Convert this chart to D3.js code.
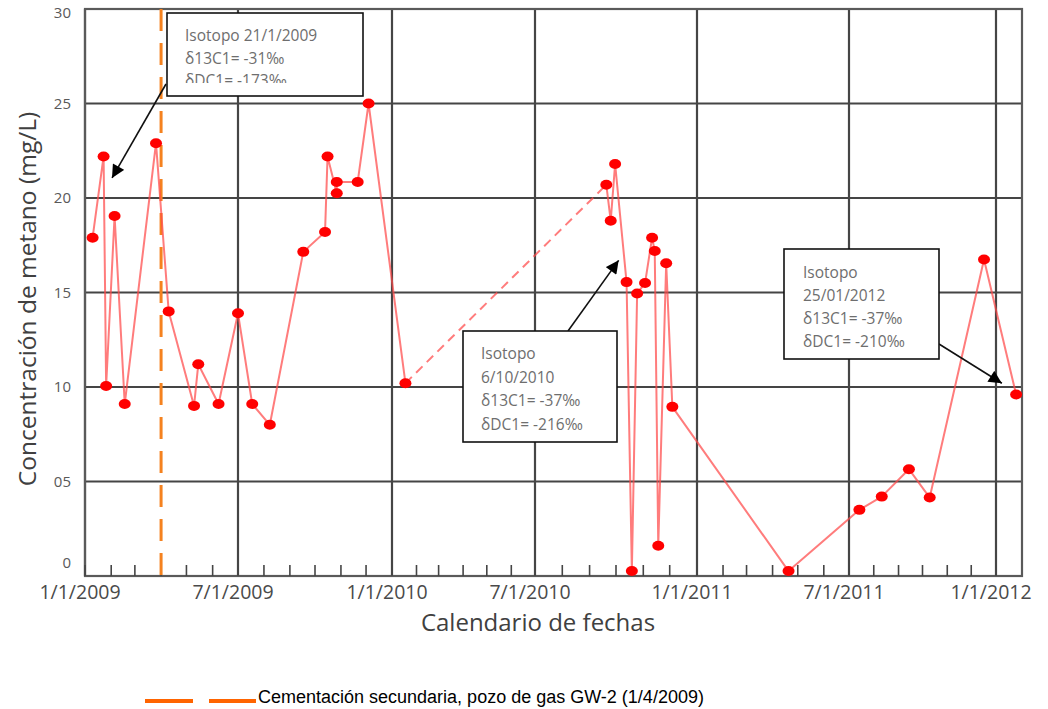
<!DOCTYPE html>
<html>
<head>
<meta charset="utf-8">
<script src="https://cdn.jsdelivr.net/npm/d3@7"></script>
<style>
  html, body { margin: 0; padding: 0; background: #fff; }
  svg { display: block; }
</style>
</head>
<body>
<svg id="chart" width="1048" height="709"></svg>
<script>
// Methane concentration in groundwater samples, 2009-2012
const sampleDates = [
  "2009-01-10", "2009-01-23", "2009-01-26", "2009-02-05", "2009-02-17",
  "2009-03-26", "2009-04-10", "2009-05-10", "2009-05-15", "2009-06-08",
  "2009-07-01", "2009-07-18", "2009-08-08", "2009-09-17", "2009-10-13",
  "2009-10-16", "2009-10-27", "2009-10-27", "2009-11-21", "2009-12-04",
  "2010-01-18", "2010-09-20", "2010-09-25", "2010-09-30", "2010-10-13",
  "2010-10-19", "2010-10-25", "2010-11-03", "2010-11-11", "2010-11-14",
  "2010-11-18", "2010-11-27", "2010-12-04", "2011-04-20", "2011-07-14",
  "2011-08-11", "2011-09-14", "2011-10-10", "2011-12-17", "2012-01-25"
];
const methaneMgL = [
  17.9, 22.2, 10.05, 19.05, 9.1,
  22.9, 14.0, 9.0, 11.2, 9.1,
  13.9, 9.1, 8.0, 17.15, 18.2,
  22.2, 20.25, 20.85, 20.85, 25.0,
  10.2, 20.7, 18.8, 21.8, 15.55,
  0.26, 14.95, 15.5, 17.9, 17.2,
  1.6, 16.55, 8.95, 0.26, 3.5,
  4.2, 5.65, 4.15, 16.75, 9.6
];
// gap in sampling, drawn dashed
const interruptedSegment = ["2010-01-18", "2010-09-20"];

const axisDates = ["2009-01-01", "2009-07-01", "2010-01-01", "2010-07-01",
                   "2011-01-01", "2011-07-01", "2012-01-01", "2012-02-01"];
const xTickLabels = ["1/1/2009", "7/1/2009", "1/1/2010", "7/1/2010",
                     "1/1/2011", "7/1/2011", "1/1/2012"];
const yTickValues = [0, 5, 10, 15, 20, 25, 30];
const yTickLabels = ["0", "05", "10", "15", "20", "25", "30"];

const cementationDate = "2009-04-01";
const legendLabel = "Cementación secundaria, pozo de gas GW-2 (1/4/2009)";

const isotopeNotes = [
  { lines: ["Isotopo 21/1/2009", "δ13C1= -31‰", "δDC1= -173‰"], tip: ["2009-02-02", 21.06] },
  { lines: ["Isotopo", "6/10/2010", "δ13C1= -37‰", "δDC1= -216‰"], tip: ["2010-10-04", 16.7] },
  { lines: ["Isotopo", "25/01/2012", "δ13C1= -37‰", "δDC1= -210‰"], tip: ["2012-01-08", 10.2] }
];

const parse = d3.utcParse("%Y-%m-%d");
const svg = d3.select("#chart");

const plot = { left: 85, right: 1022, top: 9, bottom: 576 };

// date axis with per-period breakpoints
const x = d3.scaleUtc()
  .domain(axisDates.map(parse))
  .range([85, 238, 392, 535, 697, 849, 996, 1022]);
const y = d3.scaleLinear().domain([0, 30]).range([plot.bottom, plot.top]);

const gridColor = "#454545";
const textGrey = "#595959";

// horizontal grid
svg.append("g").selectAll("line")
  .data(yTickValues)
  .join("line")
  .attr("x1", plot.left).attr("x2", plot.right)
  .attr("y1", d => y(d)).attr("y2", d => y(d))
  .attr("stroke", gridColor).attr("stroke-width", 2.2);

// vertical grid at labelled dates
const majorDates = axisDates.slice(0, xTickLabels.length).map(parse);
svg.append("g").selectAll("line")
  .data(majorDates)
  .join("line")
  .attr("x1", d => x(d)).attr("x2", d => x(d))
  .attr("y1", plot.top).attr("y2", plot.bottom)
  .attr("stroke", gridColor).attr("stroke-width", 2.2);

// plot frame
svg.append("rect")
  .attr("x", plot.left).attr("y", plot.top)
  .attr("width", plot.right - plot.left).attr("height", plot.bottom - plot.top)
  .attr("fill", "none").attr("stroke", "#5a5a5a").attr("stroke-width", 2.2);

// monthly minor ticks
const months = d3.utcMonth.range(parse(axisDates[0]), parse(axisDates[axisDates.length - 1]));
svg.append("g").selectAll("line")
  .data(months)
  .join("line")
  .attr("x1", d => x(d)).attr("x2", d => x(d))
  .attr("y1", plot.bottom).attr("y2", plot.bottom - 11)
  .attr("stroke", gridColor).attr("stroke-width", 1.6);

// y tick labels (bottom and top labels nudged inward)
const labelNudge = v => (v === 0 ? -13 : v === 30 ? 4 : 0);
svg.append("g").selectAll("text")
  .data(yTickValues)
  .join("text")
  .attr("x", 71)
  .attr("y", d => y(d) + labelNudge(d))
  .attr("dy", "0.35em")
  .attr("text-anchor", "end")
  .attr("font-family", "Open Sans")
  .attr("font-size", 15)
  .attr("fill", textGrey)
  .text((d, i) => yTickLabels[i]);

// x tick labels
svg.append("g").selectAll("text")
  .data(majorDates)
  .join("text")
  .attr("x", d => x(d) - 5)
  .attr("y", 599)
  .attr("text-anchor", "middle")
  .attr("font-family", "Open Sans")
  .attr("font-size", 19.5)
  .attr("fill", "#4a4a4a")
  .text((d, i) => xTickLabels[i]);

// axis titles
svg.append("text")
  .attr("transform", "translate(36,299) rotate(-90)")
  .attr("text-anchor", "middle")
  .attr("font-family", "Open Sans")
  .attr("font-size", 24.5)
  .attr("fill", "#404040")
  .text("Concentración de metano (mg/L)");
svg.append("text")
  .attr("x", 538).attr("y", 631)
  .attr("text-anchor", "middle")
  .attr("font-family", "Open Sans")
  .attr("font-size", 24)
  .attr("fill", "#404040")
  .text("Calendario de fechas");

// cementation date marker
const cx = x(parse(cementationDate));
svg.append("line")
  .attr("x1", cx).attr("x2", cx)
  .attr("y1", plot.top).attr("y2", plot.bottom)
  .attr("stroke", "#f5821f").attr("stroke-width", 3)
  .attr("stroke-dasharray", "22 12");

// measurements
const samples = sampleDates.map((d, i) => ({ date: parse(d), value: methaneMgL[i], key: d }));
const gapStart = samples.findIndex(s => s.key === interruptedSegment[0]);
const gapEnd = samples.findIndex(s => s.key === interruptedSegment[1]);
const line = d3.line().x(d => x(d.date)).y(d => y(d.value));
const lineStyle = sel => sel.attr("fill", "none")
  .attr("stroke", "#ff4a4a").attr("stroke-opacity", 0.72)
  .attr("stroke-width", 2).attr("stroke-linejoin", "round");

svg.append("path").datum(samples.slice(0, gapStart + 1)).attr("d", line).call(lineStyle);
svg.append("path").datum(samples.slice(gapEnd)).attr("d", line).call(lineStyle);
svg.append("path").datum([samples[gapStart], samples[gapEnd]]).attr("d", line).call(lineStyle)
  .attr("stroke-dasharray", "9 6");

svg.append("g").selectAll("ellipse")
  .data(samples)
  .join("ellipse")
  .attr("cx", d => x(d.date)).attr("cy", d => y(d.value))
  .attr("rx", 6).attr("ry", 5)
  .attr("fill", "#ff0000");

// isotope notes
const defs = svg.append("defs");
defs.append("marker")
  .attr("id", "head").attr("viewBox", "0 0 10 10")
  .attr("refX", 10).attr("refY", 5)
  .attr("markerWidth", 14).attr("markerHeight", 13)
  .attr("markerUnits", "userSpaceOnUse")
  .attr("orient", "auto")
  .append("path").attr("d", "M0,0 L10,5 L0,10 Z").attr("fill", "#000");

const boxes = [
  { x: 167, y: 13, w: 196, h: 83, tx: 185, ty: 41, lh: 22.5, from: [166, 84], clip: 83 },
  { x: 463, y: 331, w: 154, h: 111, tx: 481, ty: 359, lh: 23.5, from: [568, 331] },
  { x: 784, y: 249, w: 155, h: 110, tx: 803, ty: 278, lh: 23, from: [939, 344] }
];
boxes.forEach((b, i) => {
  const note = isotopeNotes[i];
  const tx = x(parse(note.tip[0])), ty = y(note.tip[1]);
  svg.append("line")
    .attr("x1", b.from[0]).attr("y1", b.from[1])
    .attr("x2", tx).attr("y2", ty)
    .attr("stroke", "#111").attr("stroke-width", 1.6)
    .attr("marker-end", "url(#head)");
  svg.append("rect")
    .attr("x", b.x).attr("y", b.y).attr("width", b.w).attr("height", b.h)
    .attr("fill", "#fff").attr("stroke", "#111").attr("stroke-width", 1.6);
  const g = svg.append("g");
  if (b.clip) {
    defs.append("clipPath").attr("id", "noteclip" + i)
      .append("rect").attr("x", b.x).attr("y", b.y).attr("width", b.w).attr("height", b.clip - b.y);
    g.attr("clip-path", `url(#noteclip${i})`);
  }
  g.selectAll("text")
    .data(note.lines)
    .join("text")
    .attr("x", b.tx)
    .attr("y", (d, k) => b.ty + k * b.lh)
    .attr("font-family", "Open Sans")
    .attr("font-size", 15.5)
    .attr("fill", "#6e6e6e")
    .text(d => d);
});

// legend
const legend = svg.append("g");
legend.selectAll("line")
  .data([[145, 193], [209, 256]])
  .join("line")
  .attr("x1", d => d[0]).attr("x2", d => d[1])
  .attr("y1", 701).attr("y2", 701)
  .attr("stroke", "#ff6400").attr("stroke-width", 4);
legend.append("text")
  .attr("x", 258).attr("y", 703)
  .attr("font-family", "Liberation Sans")
  .attr("font-size", 18)
  .attr("fill", "#000")
  .text(legendLabel);
</script>
</body>
</html>
